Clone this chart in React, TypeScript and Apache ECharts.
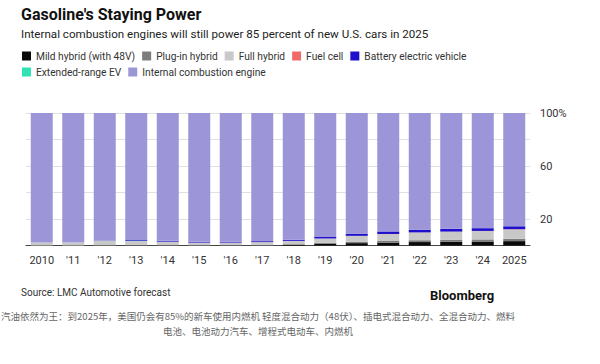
import React, { useEffect, useRef } from "react";
import * as echarts from "echarts";

const years = ["2010", "'11", "'12", "'13", "'14", "'15", "'16", "'17", "'18", "'19", "'20", "'21", "'22", "'23", "'24", "2025"];
const mildHybrid = [0, 0, 0, 0, 0, 0, 0, 0, 0.4, 1.2, 1.8, 2.2, 2.6, 2.9, 3.0, 3.3];
const plugInHybrid = [0, 0, 0.2, 0.4, 0.3, 0.2, 0.3, 0.5, 0.6, 0.8, 1.0, 1.2, 1.4, 1.5, 1.6, 1.8];
const fullHybrid = [2.3, 2.2, 3.2, 3.0, 2.6, 2.0, 1.9, 2.1, 2.5, 3.3, 4.4, 5.2, 5.8, 6.0, 6.3, 7.0];
const fuelCell = [0, 0, 0, 0, 0, 0, 0, 0, 0, 0, 0.1, 0.1, 0.1, 0.1, 0.1, 0.2];
const batteryEV = [0, 0, 0.1, 0.6, 0.6, 0.6, 0.6, 0.7, 0.8, 1.1, 1.6, 1.9, 2.0, 2.1, 2.1, 2.2];
const extendedRangeEV = [0, 0, 0.1, 0.1, 0.1, 0, 0, 0, 0, 0, 0, 0, 0, 0, 0, 0];
const iceEngine = [97.7, 97.8, 96.4, 95.9, 96.4, 97.2, 97.2, 96.7, 95.7, 93.6, 91.1, 89.4, 88.1, 87.4, 86.9, 85.5];
const yTickLabels: Record<number, string> = { 20: "20", 60: "60", 100: "100%" };

const seriesDefs = [
  { name: "Mild hybrid (with 48V)", data: mildHybrid, color: "#0a0a0a" },
  { name: "Plug-in hybrid", data: plugInHybrid, color: "#7d7d7d" },
  { name: "Full hybrid", data: fullHybrid, color: "#c8c8c8" },
  { name: "Fuel cell", data: fuelCell, color: "#f26a6a" },
  { name: "Battery electric vehicle", data: batteryEV, color: "#1e0fcc" },
  { name: "Extended-range EV", data: extendedRangeEV, color: "#2ee3b4" },
  { name: "Internal combustion engine", data: iceEngine, color: "#9c95d7" },
];

const FONT = 'Roboto, "Liberation Sans", Arial, sans-serif';
const CJK = '"Noto Sans CJK SC", sans-serif';

export default function App() {
  const ref = useRef<HTMLDivElement>(null);
  useEffect(() => {
    if (!ref.current) return;
    const chart = echarts.init(ref.current, undefined, { renderer: "svg" });
    const legendText = { color: "#333", fontSize: 10.2, fontFamily: FONT };
    chart.setOption({
      animation: false,
      backgroundColor: "#ffffff",
      legend: [
        {
          data: seriesDefs.slice(0, 5).map((s) => s.name),
          left: 22, top: 51, itemWidth: 9, itemHeight: 9, itemGap: 7, icon: "rect",
          textStyle: legendText, padding: 0,
        },
        {
          data: seriesDefs.slice(5).map((s) => s.name),
          left: 22, top: 67, itemWidth: 9, itemHeight: 9, itemGap: 7, icon: "rect",
          textStyle: legendText, padding: 0,
        },
      ],
      grid: { left: 26, right: 70, top: 113, height: 132.5, containLabel: false },
      xAxis: {
        type: "category",
        data: years,
        axisLine: { lineStyle: { color: "#444", width: 1 } },
        axisTick: { alignWithLabel: true, length: 4, interval: 0, lineStyle: { color: "#555" } },
        axisLabel: { color: "#333", fontSize: 11, fontFamily: FONT, margin: 9, interval: 0 },
      },
      yAxis: {
        type: "value",
        position: "right",
        min: 0,
        max: 100,
        interval: 20,
        axisLine: { show: false },
        axisTick: { show: false },
        axisLabel: {
          color: "#333", fontSize: 11, fontFamily: FONT, margin: 10,
          formatter: (v: number) => yTickLabels[v] ?? "",
        },
        splitLine: { lineStyle: { color: "#e0e0e0", width: 1 } },
      },
      series: seriesDefs.map((s) => ({
        name: s.name,
        type: "bar",
        stack: "total",
        data: s.data,
        barWidth: 22,
        itemStyle: { color: s.color },
      })),
      graphic: [
        { type: "text", style: { x: 21, y: 14, text: "Gasoline's Staying Power", font: `bold 16px ${FONT}`, fill: "#111", textVerticalAlign: "middle" } },
        { type: "text", style: { x: 21, y: 34, text: "Internal combustion engines will still power 85 percent of new U.S. cars in 2025", font: `11.6px ${FONT}`, fill: "#222", textVerticalAlign: "middle" } },
        { type: "text", style: { x: 21, y: 292, text: "Source: LMC Automotive forecast", font: `10px ${FONT}`, fill: "#333", textVerticalAlign: "middle" } },
        { type: "text", style: { x: 430, y: 295, text: "Bloomberg", font: `bold 13px ${FONT}`, fill: "#111", textVerticalAlign: "middle" } },
        { type: "text", style: { x: 258, y: 316, text: "汽油依然为王：到2025年，美国仍会有85%的新车使用内燃机 轻度混合动力（48伏）、插电式混合动力、全混合动力、燃料", font: `9.5px ${CJK}`, fill: "#666", textAlign: "center", textVerticalAlign: "middle" } },
        { type: "text", style: { x: 258, y: 331, text: "电池、电池动力汽车、增程式电动车、内燃机", font: `9.5px ${CJK}`, fill: "#666", textAlign: "center", textVerticalAlign: "middle" } },
      ],
    });
    return () => chart.dispose();
  }, []);
  return <div ref={ref} style={{ position: "fixed", left: 0, top: 0, width: 600, height: 364 }} />;
}
